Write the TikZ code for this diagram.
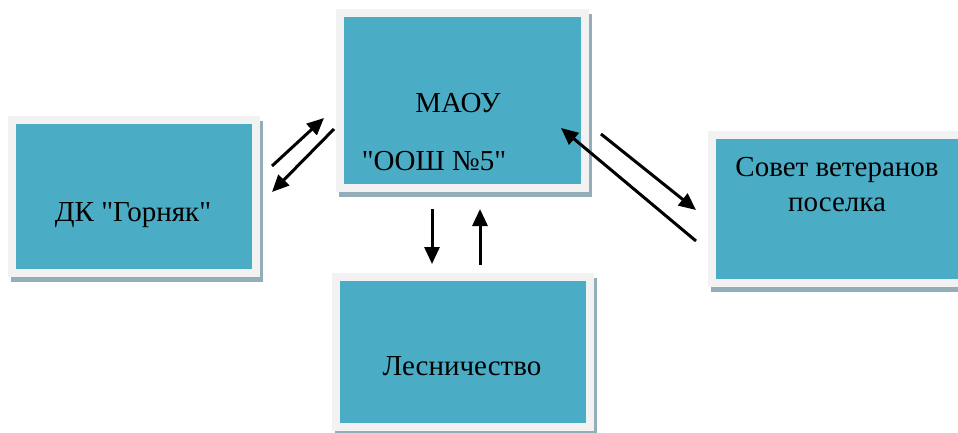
\documentclass[tikz,border=0pt]{standalone}
\usepackage{fontspec}
\setmainfont{Liberation Serif}
\newfontfamily\shrift{Liberation Serif}
\usetikzlibrary{arrows.meta}
\definecolor{morskoj}{HTML}{4BACC6}
\definecolor{rama}{HTML}{F2F2F2}
\definecolor{ten}{HTML}{93ADB9}

\begin{document}
\begin{tikzpicture}[x=1pt, y=-1pt, very thick]

\tikzstyle{blok}=[rectangle, inner sep=0pt, fill=morskoj, draw=rama, line width=8pt,
  preaction={draw=ten, fill=ten, line width=8pt, transform canvas={shift={(3pt,-5pt)}}}]
\tikzstyle{txt}=[inner sep=0pt, anchor=base, font=\shrift\fontsize{29}{34}\selectfont]
\tikzstyle{pil}=[-{Triangle[length=17pt, width=15pt]}, line width=3pt]

\useasboundingbox (0,0) rectangle (958,432);

% boxes
\node[blok, minimum width=244, minimum height=153] (dk)    at (134,196) {};
\node[blok, minimum width=245, minimum height=175] (maou)  at (462,100) {};
\node[blok, minimum width=254, minimum height=150] (les)   at (463,352) {};
\node[blok, minimum width=250, minimum height=148] (sovet) at (837,209) {};

% texts
\node[txt] (maou1) at (458,112) {МАОУ};
\node[txt] (maou2) at (434,170) {"ООШ №5"};
\node[txt] (dk1)   at (133,221) {ДК "Горняк"};
\node[txt] (sov1)  at (837,176) {Совет ветеранов};
\node[txt] (sov2)  at (837,211) {поселка};
\node[txt] (les1)  at (462,375) {Лесничество};

% arrows
\draw[pil] ([shift={(12,-30)}]dk.east) -- ([shift={(-11.5,18)}]maou.west);
\draw[pil] ([shift={(-1.5,29)}]maou.west) -- ([shift={(12,-4)}]dk.east);
\draw[pil] ([shift={(-30,17.5)}]maou.south) -- ([shift={(-31,-9)}]les.north);
\draw[pil] ([shift={(17,-8)}]les.north) -- ([shift={(18,17.5)}]maou.south);
\draw[pil] ([shift={(12.5,34)}]maou.east) -- ([shift={(-12,1)}]sovet.west);
\draw[pil] ([shift={(-12,32)}]sovet.west) -- ([shift={(-27.5,28)}]maou.east);

\end{tikzpicture}
\end{document}
